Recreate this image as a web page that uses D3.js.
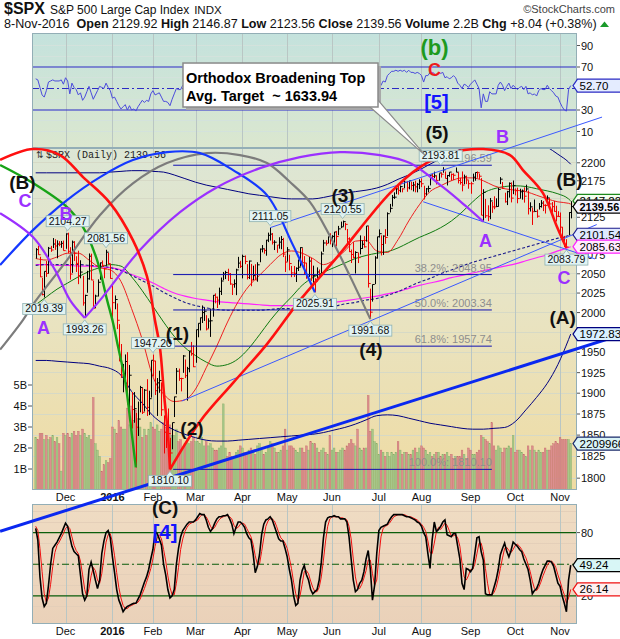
<!DOCTYPE html>
<html>
<head>
<meta charset="utf-8">
<script src="https://cdn.jsdelivr.net/npm/d3@7"></script>
<style>
  body { margin: 0; background: #fff; }
  svg { display: block; }
  text { font-family: "Liberation Sans", Arial, sans-serif; }
</style>
</head>
<body>
<svg id="chart" width="620" height="639"></svg>
<script>
// ---------------- data: S&P 500 daily, 10-Nov-2015 .. 8-Nov-2016 ----------------
const monthNames = ["Dec","2016","Feb","Mar","Apr","May","Jun","Jul","Aug","Sep","Oct","Nov"];
const tradingDaysPerMonth = [14,22,19,20,22,21,21,22,20,23,21,21,6];
const prevClose = 2078.58;

const closes = [
 2081.72,2075.00,2045.97,2023.04,2053.19,2050.44,2083.58,2081.24,2089.17,2086.59,2089.14,2088.87,2090.11,2080.41,
 2102.63,2079.51,2049.62,2091.69,2077.07,2063.59,2047.62,2052.23,2012.37,2021.94,2043.41,2073.07,2041.89,2005.55,2021.15,2038.97,2064.29,2060.99,2056.50,2078.36,2063.36,2043.94,
 2012.66,2016.71,1990.26,1943.09,1922.03,1923.67,1938.68,1890.28,1921.84,1880.33,1881.33,1859.33,1868.99,1906.90,1877.08,1903.63,1882.95,1893.36,1940.24,
 1939.38,1903.03,1912.53,1915.45,1880.05,1853.44,1852.21,1851.86,1829.08,1864.78,1895.58,1926.82,1917.83,1917.78,1945.50,1921.27,1929.80,1951.70,1948.05,1932.23,
 1978.35,1986.45,1993.40,1999.99,2001.76,1979.26,1989.26,1989.57,2022.19,2019.64,2015.93,2027.22,2040.59,2049.58,2051.60,2049.80,2036.71,2035.94,2037.05,2055.01,2063.95,2059.74,
 2072.78,2066.13,2045.17,2066.66,2041.91,2047.60,2041.99,2061.72,2082.42,2082.78,2080.73,2094.34,2100.80,2102.40,2091.48,2091.58,2087.79,2091.70,2095.15,2075.81,2065.30,
 2081.43,2063.37,2051.12,2050.63,2057.14,2058.69,2084.39,2064.46,2064.11,2046.61,2066.66,2047.21,2047.63,2040.04,2052.32,2048.04,2076.06,2090.54,2090.10,2099.06,2096.95,
 2099.33,2105.26,2099.13,2109.41,2112.13,2119.12,2115.48,2096.07,2079.06,2075.32,2071.50,2077.99,2071.22,2083.25,2088.90,2085.45,2113.32,2037.41,2000.54,2036.09,2070.77,2098.86,
 2102.95,2088.55,2099.73,2097.90,2129.90,2137.16,2152.14,2152.43,2163.75,2161.74,2166.89,2163.78,2173.02,2165.17,2175.03,2168.48,2169.18,2166.58,2170.06,2173.60,
 2170.84,2157.03,2163.79,2164.25,2182.87,2180.89,2181.74,2175.49,2185.79,2184.05,2190.15,2178.15,2182.22,2187.02,2183.87,2182.64,2186.90,2175.44,2172.47,2169.04,2180.38,2176.12,2170.95,
 2170.86,2179.98,2186.48,2186.16,2181.30,2127.81,2159.04,2127.02,2125.77,2147.26,2139.16,2139.12,2139.76,2163.12,2177.18,2164.69,2146.10,2159.93,2171.37,2151.13,2168.27,
 2161.20,2150.49,2159.73,2160.77,2153.74,2163.66,2136.73,2139.18,2132.55,2132.98,2126.50,2139.60,2144.29,2141.34,2141.16,2151.33,2143.16,2139.43,2133.04,2126.41,2126.15,
 2111.72,2097.94,2088.66,2085.18,2131.52,2139.56
];
const highs = [
 2083.7,2086.9,2072.3,2044.6,2053.2,2066.7,2085.3,2086.7,2097.1,2095.6,2094.1,2093.0,2093.3,2093.8,
 2103.4,2104.27,2085.0,2093.8,2093.0,2073.0,2080.3,2067.7,2047.3,2022.9,2053.9,2076.7,2076.4,2040.8,2022.9,2042.7,2064.7,2067.4,2057.8,2081.56,2077.3,2062.5,
 2038.2,2021.9,2011.7,1985.3,1960.4,1935.7,1947.4,1950.3,1934.5,1901.4,1901.4,1876.2,1889.9,1908.9,1906.3,1905.0,1917.0,1903.0,1940.2,
 1947.20,1939.4,1918.4,1927.4,1913.1,1873.3,1868.3,1881.6,1846.8,1864.8,1895.8,1930.7,1930.0,1918.8,1946.7,1941.2,1932.1,1951.8,1963.0,1958.7,
 1978.4,1986.5,1993.7,2009.1,2006.1,1996.7,1992.7,2005.1,2022.4,2024.6,2020.4,2032.0,2045.1,2052.4,2053.9,2056.6,2051.0,2036.0,2042.7,2056.6,2072.2,2067.0,
 2075.1,2074.0,2062.6,2067.3,2062.9,2060.6,2062.5,2065.1,2083.2,2087.8,2083.2,2094.7,2104.4,2111.05,2103.9,2094.3,2087.8,2098.2,2099.9,2097.4,2073.9,
 2085.1,2075.0,2060.3,2060.2,2058.4,2068.7,2084.9,2083.7,2073.2,2064.2,2071.9,2070.8,2060.6,2044.2,2058.4,2055.6,2079.2,2094.7,2094.3,2099.1,2103.5,
 2101.0,2105.3,2106.7,2113.4,2119.2,2120.55,2117.6,2109.3,2098.1,2081.9,2091.7,2079.6,2078.0,2100.7,2093.7,2099.7,2113.3,2113.3,2030.7,2036.1,2073.1,2098.9,
 2108.7,2100.7,2100.7,2109.1,2131.7,2143.2,2155.4,2159.0,2169.0,2169.1,2168.4,2164.6,2175.6,2174.6,2175.1,2173.7,2173.5,2175.0,2172.0,2177.1,
 2178.3,2168.1,2165.0,2168.2,2182.9,2185.4,2187.7,2182.3,2185.4,2186.3,2193.81,2187.9,2183.1,2187.0,2185.0,2185.2,2193.4,2186.7,2179.0,2187.9,2183.5,2182.2,2175.6,
 2173.6,2184.9,2186.6,2187.9,2184.9,2178.6,2163.3,2150.0,2141.3,2151.3,2146.0,2153.6,2150.8,2165.1,2180.0,2173.3,2158.5,2161.1,2172.7,2172.7,2175.3,
 2164.4,2165.5,2164.0,2162.9,2165.9,2169.6,2161.6,2145.4,2138.2,2149.2,2135.6,2144.4,2148.4,2147.2,2142.6,2154.8,2151.4,2145.7,2147.1,2140.7,2133.3,
 2131.5,2111.8,2099.9,2095.6,2132.0,2146.87
];
const lows = [
 2069.9,2074.9,2045.7,2022.0,2019.39,2045.9,2050.3,2078.8,2083.8,2081.4,2070.3,2086.3,2084.1,2080.4,
 2082.9,2077.1,2042.4,2051.2,2066.8,2052.3,2036.5,2044.1,2008.8,1993.26,2025.4,2042.4,2041.7,2005.3,2005.9,2020.5,2042.2,2058.7,2044.2,2060.5,2062.0,2043.6,
 1989.7,2004.2,1979.1,1938.8,1918.5,1901.1,1914.4,1886.4,1878.9,1857.8,1864.6,1812.29,1849.0,1877.0,1875.0,1878.0,1872.7,1873.7,1894.7,
 1920.3,1897.8,1872.7,1900.5,1872.7,1828.5,1834.9,1850.3,1810.10,1833.4,1871.4,1898.8,1915.0,1902.2,1924.8,1918.4,1891.0,1925.4,1945.8,1931.8,
 1937.1,1968.8,1977.4,1986.8,1989.4,1977.4,1979.8,1969.3,1994.8,2011.8,2005.8,2010.0,2022.5,2041.7,2043.1,2040.6,2035.7,2022.5,2031.9,2022.3,2057.3,2057.6,
 2044.0,2062.6,2042.6,2043.1,2033.8,2041.7,2041.9,2039.7,2065.1,2078.1,2076.3,2073.7,2091.7,2093.8,2088.5,2081.2,2077.5,2083.0,2082.3,2071.9,2052.3,
 2065.9,2054.4,2045.6,2045.8,2039.3,2053.6,2059.5,2064.5,2049.6,2043.5,2046.0,2040.8,2034.5,2025.91,2041.7,2047.3,2050.4,2078.9,2087.1,2090.3,2088.7,
 2085.1,2088.6,2086.0,2100.9,2110.4,2112.4,2107.7,2090.0,2078.5,2064.1,2070.1,2050.4,2064.0,2075.5,2083.0,2084.4,2092.3,2032.1,1991.68,2014.0,2036.5,2070.0,
 2097.9,2074.0,2074.7,2089.4,2099.7,2131.6,2139.6,2150.0,2156.5,2155.8,2159.1,2159.0,2164.9,2159.8,2163.2,2162.0,2160.2,2159.1,2159.0,2163.5,
 2166.2,2149.3,2154.9,2159.1,2168.6,2177.9,2178.6,2169.9,2175.1,2179.4,2186.1,2178.2,2168.5,2180.5,2175.1,2176.0,2186.8,2171.3,2169.7,2160.4,2170.2,2170.4,2164.0,
 2157.1,2173.6,2175.1,2179.1,2177.5,2127.8,2119.12,2124.0,2119.9,2122.4,2131.0,2135.9,2139.2,2139.6,2170.4,2164.0,2145.0,2141.6,2151.8,2145.2,2156.5,
 2154.8,2144.0,2150.3,2149.0,2144.9,2160.4,2128.8,2132.8,2114.7,2133.0,2124.4,2135.5,2138.2,2133.4,2130.1,2146.9,2141.9,2131.6,2132.5,2119.4,2125.5,
 2097.9,2094.0,2085.2,2083.79,2100.6,2123.56
];
// volume, billions of shares
const volumes = [
 2.5,2.4,2.7,2.7,2.4,2.6,2.4,2.5,2.6,2.3,2.5,2.2,0.9,2.7,
 2.6,2.7,2.5,2.7,2.8,2.6,2.8,2.6,2.9,2.7,2.5,2.6,2.4,4.4,2.2,1.9,1.6,0.9,1.2,1.4,1.3,1.5,
 3.0,2.9,2.7,3.3,3.0,2.9,2.9,3.9,3.1,4.0,3.3,3.8,3.4,3.0,2.5,2.9,2.6,2.9,3.2,
 3.0,2.9,3.1,2.8,2.9,3.2,3.0,2.8,3.1,2.6,2.6,2.9,2.3,2.4,2.0,2.2,2.4,2.2,2.3,2.5,
 2.3,2.3,2.2,2.5,2.1,2.3,2.1,2.2,2.0,1.9,1.9,2.0,2.1,4.1,2.0,1.6,1.8,1.6,1.5,1.8,1.9,2.1,
 2.0,1.8,1.8,1.9,2.0,1.8,1.7,2.1,2.2,1.9,1.7,1.8,2.0,2.3,2.2,2.0,1.8,1.8,1.9,2.1,2.9,
 1.9,2.1,2.1,2.0,1.9,1.8,2.0,2.0,1.8,2.1,1.9,2.3,2.2,2.2,2.0,1.8,1.9,2.0,1.8,1.7,2.6,
 1.9,2.0,1.8,1.8,1.9,2.0,1.9,2.1,2.2,2.4,2.2,2.1,2.9,2.0,1.9,2.0,2.0,4.5,2.8,2.9,2.3,2.2,
 1.7,1.9,1.8,1.6,1.8,1.6,1.8,1.7,1.8,2.3,1.9,1.7,1.8,1.8,1.7,1.7,1.9,2.0,1.8,2.0,
 2.1,2.0,1.9,1.7,1.8,1.6,1.7,1.8,1.8,1.6,1.7,1.7,1.8,1.6,1.7,1.5,1.6,1.6,1.6,1.9,1.7,1.5,2.0,
 1.9,1.7,1.7,1.8,1.9,2.6,2.5,2.4,2.3,2.2,3.2,2.1,1.9,2.1,2.0,1.8,2.0,2.0,2.1,2.0,2.6,
 1.8,1.9,1.9,1.8,1.7,1.6,2.1,1.9,2.1,1.9,1.8,1.9,1.8,1.8,2.0,1.9,1.9,2.1,2.2,2.3,2.2,
 2.5,2.4,2.4,2.4,2.4,2.209966016
];
// RSI(14)
const rsi = [
 59,58,51,44,42,48,56,57,58,57,57,57,58,54,
 60,57,45,55,51,49,44,46,39,42,47,52,46,40,44,48,52,51,50,55,51,48,
 41,42,38,34,31,33,35,30,34,30,31,29,33,36,39,37,39,38,45,
 48,44,45,46,42,38,38,37,34,40,45,50,49,49,53,50,52,56,56,53,
 60,61,62,63,63,58,60,60,65,64,63,65,67,68,68,67,63,62,62,65,67,65,
 68,66,59,64,57,58,56,61,65,65,64,67,68,68,64,64,62,63,64,56,52,
 57,51,48,48,50,50,58,52,52,46,52,46,46,44,48,47,56,60,60,62,61,
 62,63,61,64,65,67,65,57,51,50,48,51,49,53,55,54,61,41,35,44,51,57,
 55,53,57,56,62,64,66,66,67,66,67,66,67,65,67,65,65,64,65,64,
 62,56,62,62,65,65,64,62,64,64,65,60,61,59,60,62,60,55,53,50,54,53,51,
 54,56,58,54,50,32,45,38,38,47,45,45,45,53,56,53,48,52,55,50,53,
 51,49,51,52,49,52,45,46,44,45,43,48,50,49,49,53,50,48,46,43,42,
 37,33,30,29,49,52.70
];
// Full stochastics %K (black) and %D (red)
const stochK = [
 84,73,38,18,10,13,30,50,65,68,71,75,79,84,
 89,86,76,67,62,60,58,40,22,16,20,45,52,44,35,27,35,60,72,80,82,75,
 57,42,26,16,11,5,8,10,11,12,13,13,17,21,27,33,38,45,55,
 64,81,79,74,68,50,40,26,18,20,26,50,65,76,82,85,88,90,90,90,
 92,95,98,97,97,92,85,81,84,89,93,95,95,96,96,97,93,88,79,85,90,90,
 88,85,79,75,73,60,42,48,59,78,88,92,93,95,92,86,80,74,72,72,65,
 57,45,35,20,11,13,35,44,49,40,35,26,22,24,26,35,52,75,90,94,95,
 95,96,95,95,93,93,93,90,76,55,35,24,26,32,35,43,55,63,45,16,30,60,
 82,85,86,87,88,92,95,97,97,97,97,97,96,95,95,94,93,92,90,89,
 86,80,76,60,46,73,90,81,83,86,90,92,78,77,76,79,79,67,55,32,26,46,45,
 43,46,60,75,76,62,54,22,21,21,21,28,35,45,59,65,70,62,57,63,71,
 69,67,64,62,55,50,45,35,22,25,27,32,39,45,49,53,53,52,48,40,32,
 29,20,13,5,35,49.24
];
const stochD = [
 86,82,65,43,22,14,18,31,48,61,68,71,75,79,
 84,86,84,76,68,63,60,53,40,26,19,27,39,47,44,35,32,41,56,71,78,79,
 71,58,42,28,18,11,8,8,10,11,12,13,14,17,22,27,33,39,46,
 55,67,75,78,74,64,53,39,28,21,21,32,47,64,74,81,85,88,89,90,
 91,92,95,97,97,95,91,86,83,85,89,92,94,95,96,96,95,93,87,84,85,88,
 89,88,84,80,76,69,58,50,50,62,75,86,91,93,93,91,86,80,75,73,70,
 65,56,46,33,22,15,20,31,43,44,41,34,28,24,24,28,38,54,72,86,93,
 95,95,95,95,94,94,93,92,86,74,55,38,28,27,31,37,44,54,54,41,30,35,
 57,76,84,86,87,89,92,95,96,97,97,97,97,96,95,95,94,93,92,90,
 88,85,81,72,61,60,70,81,85,83,86,89,87,82,77,77,78,75,67,51,38,35,39,
 45,45,50,60,70,70,62,46,32,21,21,23,28,36,46,56,65,66,63,61,64,
 68,69,67,64,60,56,50,43,34,27,25,28,33,39,44,49,52,53,51,47,40,
 34,27,21,13,18,26.14
];
// overlays, sampled every 5th session plus the last one
const ma20 = [2070,2068,2072,2077,2077,2068,2058,2055,2040,2005,1966,1920,1899,1890,1892,1905,1931,1958,1988,2014,2034,2048,2062,2075,2080,2077,2070,2062,2068,2080,2093,2094,2080,2078,2095,2120,2142,2160,2168,2175,2179,2179,2175,2168,2164,2162,2160,2155,2150,2146,2144,2143];
const ma50 = [2010,2020,2030,2038,2046,2053,2058,2062,2060,2046,2028,2008,1988,1970,1956,1946,1938,1933,1935,1942,1955,1972,1990,2006,2020,2035,2045,2052,2058,2064,2070,2074,2077,2079,2084,2091,2098,2104,2111,2120,2132,2146,2158,2164,2167,2168,2167,2164,2161,2157,2150,2147.22];
const sma200 = [2062,2062,2061,2061,2060,2060,2059,2058,2055,2049,2044,2038,2031,2025,2021,2018,2016,2014,2013,2012,2011,2010,2009,2009,2009,2009,2010,2011,2013,2015,2017,2019,2021,2024,2027,2031,2035,2038,2041,2045,2048,2051,2054,2057,2060,2063,2067,2071,2075,2080,2084.5,2085.63];
const ema200 = [2061,2062,2062,2062,2062,2061,2060,2058,2054,2048,2041,2034,2026,2019,2013,2009,2006,2004,2003,2003,2003,2003,2004,2005,2005,2005,2005,2006,2008,2011,2013,2016,2018,2022,2027,2033,2039,2044,2050,2055,2060,2065,2069,2073,2077,2081,2085,2089,2093,2097,2100.5,2101.54];
const bandUpper = [2186,2186,2186,2186,2186,2186,2186,2187,2188,2189,2189,2188,2187,2183,2178,2173,2169,2166,2163,2160,2157,2155,2153,2151,2150,2150,2150,2152,2155,2158,2160,2162,2165,2170,2177,2183,2190,2198,2206,2213,2220,2226,2232,2236,2240,2240,2236,2230,2222,2212,2201,2198];
const bandLower = [1940,1940,1939,1938,1937,1936,1933,1930,1922,1902,1888,1873,1863,1856,1851,1847,1844,1843,1843,1844,1845,1846,1847,1848,1849,1850,1851,1853,1856,1859,1863,1868,1873,1874,1873,1870,1867,1864,1862,1860,1858,1857,1857,1858,1859,1866,1880,1895,1912,1935,1966,1972.83];

// Fibonacci retracement of the Feb low .. summer high
const fibLevels = [2196.59, 2048.95, 2003.34, 1957.74, 1810.10];
const fibNames = ["0.0%", "38.2%", "50.0%", "61.8%", "100.0%"];
const fibSpan = [64.5, 214];

// pivot price flags: [session index, price, side]
const pivots = [
 [4,2019.39,"below"],[15,2104.27,"above"],[23,1993.26,"below"],[33,2081.56,"above"],
 [55,1947.20,"above"],[63,1810.10,"below"],[110,2111.05,"above"],[131,2025.91,"below"],
 [144,2120.55,"above"],[157,1991.68,"below"],[190,2193.81,"above"],[249,2083.79,"below"]
];

// hand-drawn arcs and trendlines, as [session index, price]
const arcRedLeft = [[-16.7,2204],[-1.3,2219.3],[11.4,2210.8],[22.2,2180.1],[34.9,2144.3],[45.6,2094.4],[52.2,2046.6],[55.9,1990.9],[58.3,1955.6],[60.2,1899],[62.1,1848.6],[63,1810.1]];
const arcGreen = [[-16.7,2196.8],[-1.3,2171.8],[14.7,2138.8],[22.2,2111.9],[28.8,2067.9],[33.5,2015.9],[36.3,1986.9],[38.6,1957.5],[41.9,1916.1],[45.2,1849],[47,1812.29]];
const arcGray = [[-16.7,1953.4],[-6.0,1990.5],[-1.3,2010.1],[14.7,2067.9],[30.2,2128.0],[45.6,2171.3],[61.6,2199.6],[80.4,2213.6],[95.8,2210.8],[108.5,2199.6],[119.3,2173.3],[128.7,2145.7],[138.1,2099.6],[147.5,2046.6],[157,1991.68]];
const arcBlue = [[-16.7,2061.5],[-1.3,2107.7],[14.7,2148.4],[30.2,2180.1],[45.6,2203.8],[61.6,2215],[77.1,2213.6],[92.6,2189.8],[108.5,2155.2],[120.7,2087.7],[131,2025.91]];
const arcPurpleLeft = [[-16.7,2130.6],[-1.3,2098.4],[9.1,2054.8],[16.1,2015.9],[23,1993.26]];
const arcPurple = [[23,1993.26],[30.2,2015.9],[48.9,2081.1],[67.7,2131.9],[85.1,2166.1],[105.2,2192.5],[124,2208],[142.8,2215],[161.5,2210.8],[175.6,2199.6],[191.1,2166.1],[201.4,2141.1],[210,2119.12]];
const arcRedRight = [[63,1810.1],[77.1,1866.2],[92.6,1912.5],[108.5,1960.3],[124,2015.9],[141.4,2071.8],[166.2,2157.9],[180.3,2194],[194.4,2213.6],[209.9,2219.3],[222.5,2210.8],[228.6,2189.8],[238,2157.9],[244.6,2111.9],[249,2083.79]];
const trendThick = [[-16.7,1740.1],[274.1,1971.4]];
const trendUpper = [[110,2111.05],[265.7,2264.9]];
const trendChannel = [[68.5,1890.5],[263.2,2115.2]];
const trendFalling = [[181.8,2146.1],[262.4,2069.5]];

// Elliott wave labels: [text, session index, value, panel, colour, size]
const waveLabels = [
 ["(b)",187.1,81.2,"rsi","#1e9a1e",22],["C",187.1,61.6,"rsi","#ee1c1c",18],
 ["[5]",188,30.9,"rsi","#1414ff",20],["(5)",188.3,3.0,"rsi","#111",19],
 ["B",219,-0.7,"rsi","#9b30ff",18],
 ["(B)",-6.2,2163.5,"price","#111",19],["C",-5.0,2139,"price","#9b30ff",18],
 ["B",14.2,2121,"price","#9b30ff",18],["A",3.7,1973,"price","#9b30ff",18],
 ["(1)",66.5,1965,"price","#111",19],["(2)",73.3,1850,"price","#111",19],
 ["(3)",144.2,2145.7,"price","#111",19],["(4)",157.3,1945,"price","#111",19],
 ["A",211,2085,"price","#9b30ff",18],["(B)",250.4,2168,"price","#111",19],
 ["C",247.9,2036.5,"price","#9b30ff",18],["(A)",247.2,1986,"price","#111",19],
 ["(C)",60.7,1759.4,"price","#111",19],["[4]",60.7,73.9,"sto","#1414ff",20]
];
const calloutLines = ["Orthodox Broadening Top", "Avg. Target  ~ 1633.94"];

// ---------------- layout ----------------
const L = 32, R = 577;
const rsiTop = 33, rsiBot = 148, mainTop = 148, mainBot = 490, stoTop = 504, stoBot = 624;
const N = closes.length;

const x = d3.scaleLinear().domain([0, N - 1]).range([35.7, 570.7]);
const yP = d3.scaleLog().domain([1786.5, 2220.8]).range([mainBot, mainTop]);
const yV = d3.scaleLinear().domain([0, 5]).range([mainBot, 385]);
const yR = d3.scaleLinear().domain([0, 100]).range([142.25, 34.75]);
const yS = d3.scaleLinear().domain([0, 100]).range([617, 511.5]);

const monthStarts = [];
tradingDaysPerMonth.reduce((acc, n, i) => { if (i > 0) monthStarts.push(acc); return acc + n; }, 0);
const maIdx = d3.range(0, N - 1, 5).concat([N - 1]);
const isUp = closes.map((c, i) => c >= (i ? closes[i - 1] : prevClose));
const last = a => a[a.length - 1];

// value tags on the right edge: [y, text, border, fill, bold]
const tagsRsi = [[yR(last(rsi)), last(rsi).toFixed(2), "#2b2bc4", "#e4ecff", false]];
const tagsPrice = [
  [yP(last(ma50)), last(ma50).toFixed(2), "#1d8a1d", "#f4fff0", false],
  [yP(last(closes)), last(closes).toFixed(2), "#000", "#f4f4ff", true],
  [yP(last(ema200)), last(ema200).toFixed(2), "#1a1a8c", "#dfe9ff", false],
  [yP(last(sma200)), last(sma200).toFixed(2), "#ff22ff", "#ffeaff", false],
  [yP(last(bandLower)), last(bandLower).toFixed(2), "#000080", "#d9f0ff", false],
  [yV(last(volumes)), String(Math.round(last(volumes) * 1e9)), "#1a2a6a", "#d9f3f6", false]
];
const tagsSto = [
  [yS(last(stochK)), last(stochK).toFixed(2), "#000", "#d8f6f6", false],
  [yS(last(stochD)), last(stochD).toFixed(2), "#f01010", "#fff0f0", false]
];

const svg = d3.select("#chart");
const defs = svg.append("defs");
function grad(id, stops) {
  const g = defs.append("linearGradient").attr("id", id).attr("x1", 0).attr("y1", 0).attr("x2", 0).attr("y2", 1);
  stops.forEach(([o, c]) => g.append("stop").attr("offset", o).attr("stop-color", c));
}
grad("gRsi", [[0, "#c4e2dd"], [1, "#dbe7cf"]]);
grad("gMain", [[0, "#dce6d5"], [0.45, "#e8e4c4"], [1, "#efdba2"]]);
grad("gSto", [[0, "#efdcc3"], [1, "#ead1b9"]]);
function clip(id, y0, y1) {
  defs.append("clipPath").attr("id", id).append("rect").attr("x", L).attr("y", y0).attr("width", R - L).attr("height", y1 - y0);
}
clip("cRsi", rsiTop, rsiBot); clip("cMain", mainTop, mainBot); clip("cSto", stoTop, stoBot);

// ---------------- header ----------------
const h1 = svg.append("text").attr("x", 4).attr("y", 14).attr("fill", "#111");
h1.append("tspan").text("$SPX").attr("font-weight", "bold").attr("font-size", 16);
h1.append("tspan").text("S&P 500 Large Cap Index").attr("font-size", 12).attr("dx", 5);
h1.append("tspan").text("INDX").attr("font-size", 11.5).attr("dx", 5);
svg.append("text").attr("x", 615).attr("y", 13).attr("text-anchor", "end").attr("font-size", 11)
  .attr("fill", "#444").text("\u00a9StockCharts.com");

const h2parts = [["8-Nov-2016  ", 0], ["Open ", 1], ["2129.92 ", 0], ["High ", 1], ["2146.87 ", 0], ["Low ", 1],
  ["2123.56 ", 0], ["Close ", 1], ["2139.56 ", 0], ["Volume ", 1], ["2.2B ", 0], ["Chg ", 1], ["+8.04 (+0.38%)", 0]];
const h2 = svg.append("text").attr("x", 4).attr("y", 28).attr("font-size", 12).attr("fill", "#111")
  .attr("xml:space", "preserve").style("white-space", "pre");
h2parts.forEach(([t, b]) => h2.append("tspan").text(t).attr("font-weight", b ? "bold" : "normal"));
const h2w = h2.node().getComputedTextLength();
h2.attr("font-size", 12 * 593 / h2w);
svg.append("path").attr("d", "M600,27 L609,27 L604.5,21.5 Z").attr("fill", "#1a9a2a");

// ---------------- panels ----------------
function panel(y0, y1, fill) {
  svg.append("rect").attr("x", L).attr("y", y0).attr("width", R - L).attr("height", y1 - y0).attr("fill", fill);
}
panel(rsiTop, rsiBot, "url(#gRsi)");
panel(mainTop, mainBot, "url(#gMain)");
panel(stoTop, stoBot, "url(#gSto)");

const grid = svg.append("g").attr("stroke-width", 1).attr("shape-rendering", "crispEdges");
d3.range(10, 100, 10).forEach(v => grid.append("line").attr("x1", L).attr("x2", R).attr("y1", yR(v)).attr("y2", yR(v)).attr("stroke", "#d3e2dc"));
d3.range(1800, 2225, 25).forEach(v => grid.append("line").attr("x1", L).attr("x2", R).attr("y1", yP(v)).attr("y2", yP(v)).attr("stroke", "#d6d9c6"));
d3.range(10, 101, 10).forEach(v => grid.append("line").attr("x1", L).attr("x2", R).attr("y1", yS(v)).attr("y2", yS(v)).attr("stroke", "#e4cfb9"));
monthStarts.forEach(i => {
  [[rsiTop, rsiBot], [mainTop, mainBot], [stoTop, stoBot]].forEach(([a, b]) =>
    grid.append("line").attr("x1", Math.round(x(i)) + 0.5).attr("x2", Math.round(x(i)) + 0.5).attr("y1", a).attr("y2", b).attr("stroke", "#b9c6c4"));
});

// ---------------- RSI panel ----------------
const gR = svg.append("g").attr("clip-path", "url(#cRsi)");
[70, 30].forEach(v => gR.append("line").attr("x1", L).attr("x2", R).attr("y1", yR(v)).attr("y2", yR(v)).attr("stroke", "#2b2bc4").attr("stroke-width", 1.2));
gR.append("line").attr("x1", L).attr("x2", R).attr("y1", yR(50)).attr("y2", yR(50)).attr("stroke", "#2b2bc4").attr("stroke-dasharray", "7,3,2,3");
gR.append("path").datum(rsi).attr("fill", "none").attr("stroke", "#4b4bdc").attr("stroke-width", 1)
  .attr("d", d3.line().x((d, i) => x(i)).y(d => yR(d)));

// ---------------- price panel ----------------
const gM = svg.append("g").attr("clip-path", "url(#cMain)");
gM.append("text").attr("x", 36).attr("y", 158).attr("font-size", 9).attr("fill", "#333").text("\u21c5");
gM.append("text").attr("x", 46).attr("y", 158).attr("font-size", 10).attr("fill", "#222")
  .style("font-family", "'Liberation Mono', 'DejaVu Sans Mono', monospace").text("$SPX (Daily) 2139.56");

// volume
gM.append("g").selectAll("rect").data(volumes).join("rect")
  .attr("x", (d, i) => x(i) - 0.85).attr("width", 1.7)
  .attr("y", d => yV(d)).attr("height", d => mainBot - yV(d))
  .attr("fill", (d, i) => isUp[i] ? "#a7c78a" : "#dc8f8f")
  .attr("stroke", (d, i) => isUp[i] ? "#86ad66" : "#c46a6a").attr("stroke-width", 0.4);

// overlays
const maLine = d3.line().x((d, i) => x(maIdx[i])).y(d => yP(d)).curve(d3.curveMonotoneX);
[[bandUpper, "#000080", null, 1], [bandLower, "#000080", null, 1], [sma200, "#ff22ff", null, 1.2],
 [ema200, "#1a1a8c", "3,2", 1.1], [ma50, "#0f7a0f", null, 1], [ma20, "#ee2020", null, 1]].forEach(([d, c, dash, w]) =>
  gM.append("path").datum(d).attr("fill", "none").attr("stroke", c).attr("stroke-width", w)
    .attr("stroke-dasharray", dash).attr("d", maLine));

// OHLC bars
const bars = gM.append("g").attr("stroke-width", 1);
closes.forEach((c, i) => {
  const col = isUp[i] ? "#000" : "#f00000";
  const xi = Math.round(x(i)) + 0.5;
  bars.append("line").attr("x1", xi).attr("x2", xi).attr("y1", yP(highs[i])).attr("y2", yP(lows[i])).attr("stroke", col);
  bars.append("line").attr("x1", xi).attr("x2", xi + 2.2).attr("y1", yP(c)).attr("y2", yP(c)).attr("stroke", col);
});

// Fibonacci levels
fibLevels.forEach((p, k) => {
  gM.append("line").attr("x1", x(fibSpan[0])).attr("x2", x(fibSpan[1])).attr("y1", yP(p)).attr("y2", yP(p))
    .attr("stroke", "#1010b0").attr("stroke-width", 1);
  gM.append("text").attr("x", x(fibSpan[1])).attr("y", yP(p) - 3).attr("text-anchor", "end")
    .attr("font-size", 11).attr("fill", "#8e8e8e").text(fibNames[k] + ": " + p.toFixed(2));
});

// ---------------- stochastics panel ----------------
const gS = svg.append("g").attr("clip-path", "url(#cSto)");
[80, 20].forEach(v => gS.append("line").attr("x1", L).attr("x2", R).attr("y1", yS(v)).attr("y2", yS(v)).attr("stroke", "#0b5e0b").attr("stroke-width", 1.2));
gS.append("line").attr("x1", L).attr("x2", R).attr("y1", yS(50)).attr("y2", yS(50)).attr("stroke", "#0b5e0b").attr("stroke-dasharray", "7,3,2,3");
gS.append("path").datum(stochD).attr("fill", "none").attr("stroke", "#f01010").attr("stroke-width", 1)
  .attr("d", d3.line().x((d, i) => x(i)).y(d => yS(d)));
gS.append("path").datum(stochK).attr("fill", "none").attr("stroke", "#000").attr("stroke-width", 1.6)
  .attr("d", d3.line().x((d, i) => x(i)).y(d => yS(d)));

// panel borders
[[rsiTop, rsiBot], [mainTop, mainBot], [stoTop, stoBot]].forEach(([a, b]) =>
  svg.append("rect").attr("x", L + 0.5).attr("y", a + 0.5).attr("width", R - L - 1).attr("height", b - a - 1)
    .attr("fill", "none").attr("stroke", "#93aeb6").attr("stroke-width", 1));

// ---------------- axes ----------------
const axisFont = 11;
// tick labels sitting under a value tag are left out, as the tag hides them
function rightTicks(vals, scale, tags) {
  vals.forEach(v => {
    const yy = scale(v);
    svg.append("line").attr("x1", R).attr("x2", R + 3).attr("y1", yy).attr("y2", yy).attr("stroke", "#555");
    if (tags.some(t => Math.abs(t[0] - yy) < 6)) return;
    svg.append("text").attr("x", R + 4).attr("y", yy + 4).attr("font-size", axisFont).attr("fill", "#111").text(String(v));
  });
}
rightTicks([10, 30, 50, 70, 90], yR, tagsRsi);
rightTicks(d3.range(1800, 2225, 25), yP, tagsPrice);
rightTicks([20, 50, 80], yS, tagsSto);
[1, 2, 3, 4, 5].forEach(v => {
  svg.append("line").attr("x1", L - 4).attr("x2", L).attr("y1", yV(v)).attr("y2", yV(v)).attr("stroke", "#555");
  svg.append("text").attr("x", L - 5).attr("y", yV(v) + 4).attr("text-anchor", "end").attr("font-size", axisFont).attr("fill", "#111").text(v + "B");
});
[501, 635].forEach(yy => monthStarts.forEach((idx, k) => {
  svg.append("text").attr("x", x(idx)).attr("y", yy).attr("text-anchor", "middle").attr("font-size", axisFont)
    .attr("font-weight", monthNames[k] === "2016" ? "bold" : "normal").attr("fill", "#111").text(monthNames[k]);
}));

// ---------------- annotations ----------------
const ann = svg.append("g").attr("fill", "none");
const curve = d3.line().x(d => x(d[0])).y(d => yP(d[1])).curve(d3.curveCatmullRom.alpha(0.5));
const straight = d3.line().x(d => x(d[0])).y(d => yP(d[1]));
[trendChannel, trendUpper, trendFalling].forEach(d =>
  ann.append("path").attr("d", straight(d)).attr("stroke", "#3a58ff").attr("stroke-width", 1));
[[arcGray, "#7c7c7c", 2.2], [arcGreen, "#17a317", 2.4], [arcBlue, "#1438ff", 2.2],
 [arcPurpleLeft, "#9b30ff", 2.2], [arcPurple, "#9b30ff", 2.2],
 [arcRedLeft, "#ff1010", 2.6], [arcRedRight, "#ff1010", 2.6]].forEach(([d, c, w]) =>
  ann.append("path").attr("d", curve(d)).attr("stroke", c).attr("stroke-width", w));
ann.append("path").attr("d", straight(trendThick)).attr("stroke", "#0a28f0").attr("stroke-width", 3);

// pivot flags
const flags = svg.append("g");
pivots.forEach(([idx, price, side]) => {
  const cx = x(idx), py = yP(price), label = price.toFixed(2);
  const t = flags.append("text").attr("font-size", 10.5).text(label);
  const w = t.node().getComputedTextLength() + 5, h = 11;
  t.remove();
  const top = side === "below" ? py + 6 : py - 6 - h;
  const tri = side === "below"
    ? [[cx - 3.5, top + 0.5], [cx, top - 4], [cx + 3.5, top + 0.5]]
    : [[cx - 3.5, top + h - 0.5], [cx, top + h + 4], [cx + 3.5, top + h - 0.5]];
  flags.append("rect").attr("x", cx - w / 2).attr("y", top).attr("width", w).attr("height", h)
    .attr("fill", "#e1f3f3").attr("stroke", "#8fb2b2").attr("stroke-width", 0.8);
  flags.append("polygon").attr("points", tri.map(p => p.join(",")).join(" "))
    .attr("fill", "#e1f3f3").attr("stroke", "#8fb2b2").attr("stroke-width", 0.8);
  flags.append("rect").attr("x", cx - 3).attr("y", side === "below" ? top - 0.2 : top + h - 1.2).attr("width", 6).attr("height", 1.4).attr("fill", "#e1f3f3");
  flags.append("text").attr("x", cx).attr("y", top + h - 2).attr("text-anchor", "middle")
    .attr("font-size", 10.5).attr("fill", "#111").text(label);
});

// wave labels
const scaleFor = { rsi: yR, price: yP, sto: yS };
waveLabels.forEach(([t, idx, v, p, c, s]) => {
  svg.append("text").attr("x", x(idx)).attr("y", scaleFor[p](v)).attr("text-anchor", "middle")
    .attr("font-weight", "bold").attr("font-size", s).attr("fill", c).text(t);
});

// callout box
const bx0 = x(69.1), bx1 = x(160.6), by0 = yR(73.7), by1 = yR(32.8);
svg.append("rect").attr("x", bx0 + 3).attr("y", by0 + 3).attr("width", bx1 - bx0).attr("height", by1 - by0).attr("fill", "#a8a8a8");
svg.append("polygon").attr("points", [[x(156.8), by1], [bx1, yR(39.3)], [x(182.6), yP(2210.8)]].map(p => p.join(",")).join(" "))
  .attr("fill", "#fff").attr("stroke", "#8a8a8a").attr("stroke-width", 1.2);
svg.append("rect").attr("x", bx0).attr("y", by0).attr("width", bx1 - bx0).attr("height", by1 - by0)
  .attr("fill", "#fff").attr("stroke", "#8a8a8a").attr("stroke-width", 1.5);
calloutLines.forEach((t, k) => {
  svg.append("text").attr("x", bx0 + 3).attr("y", by0 + 20 + k * 17.5).attr("font-weight", "bold")
    .attr("font-size", 14.5).attr("fill", "#000").attr("xml:space", "preserve").style("white-space", "pre").text(t);
});

// ---------------- value tags ----------------
function tag([y, text, stroke, fill, bold]) {
  const g = svg.append("g");
  g.append("path").attr("d", `M${R - 4},${y} L${R + 0.5},${y - 6.5} L622,${y - 6.5} L622,${y + 6.5} L${R + 0.5},${y + 6.5} Z`)
    .attr("fill", fill).attr("stroke", stroke).attr("stroke-width", 1.2);
  g.append("text").attr("x", R + 2.5).attr("y", y + 4).attr("font-size", bold ? 11 : 11.5)
    .attr("font-weight", bold ? "bold" : "normal").attr("fill", "#000").text(text);
}
tagsRsi.forEach(tag);
tagsPrice.forEach(tag);
tagsSto.forEach(tag);
</script>
</body>
</html>
